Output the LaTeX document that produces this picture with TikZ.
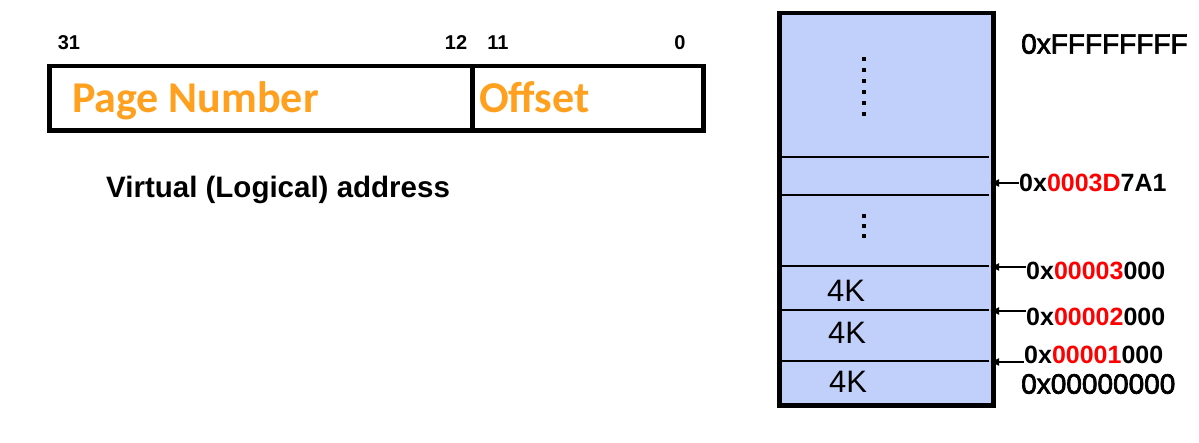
\documentclass[tikz,border=0pt]{standalone}
\usepackage{fontspec}
\setmainfont{Liberation Sans}
\newfontfamily\calib{Carlito}
\newfontfamily\heavy[FakeBold=2.5]{Liberation Sans}
\usetikzlibrary{arrows.meta}
\definecolor{memblue}{RGB}{192,208,250}
\definecolor{pgorange}{RGB}{255,160,30}
\definecolor{addrred}{RGB}{255,0,0}
\tikzset{
  bitlbl/.style={inner sep=0pt, anchor=base, font=\bfseries\fontsize{20}{22}\selectfont},
  fieldlbl/.style={inner sep=0pt, anchor=base west, text=pgorange, font=\calib\bfseries\fontsize{44}{48}\selectfont},
  addrlbl/.style={inner sep=0pt, anchor=west, font=\bfseries\fontsize{25}{28}\selectfont},
  biglbl/.style={inner sep=0pt, anchor=west, font=\heavy\fontsize{28}{32}\selectfont},
  sizelbl/.style={inner sep=0pt, font=\fontsize{31}{34}\selectfont},
  thickbox/.style={draw=black, line width=4.5pt},
  divline/.style={draw=black, line width=1.5pt},
  arr/.style={-{Latex[length=9pt,width=8pt]}, line width=1.3pt},
  dotmark/.style={fill=black, inner sep=0pt, minimum size=3.5pt, rectangle}
}
\begin{document}
\begin{tikzpicture}[x=1pt,y=-1pt]
\useasboundingbox (0,0) rectangle (1199,443);
% ---------- virtual address ----------
\node[thickbox, fill=white, minimum width=423pt, minimum height=64.5pt, anchor=north west, inner sep=0pt] (pn) at (47,64) {};
\node[thickbox, fill=white, minimum width=231pt, minimum height=64.5pt, anchor=north west, inner sep=0pt] (off) at (470,64) {};
\node[fieldlbl] (pntxt) at (72,113) {Page Number};
\node[fieldlbl] (offtxt) at (479,113) {Offset};
\node[bitlbl] (b31) at (69,50) {31};
\node[bitlbl] (b12) at (456,50) {12};
\node[bitlbl] (b11) at (498,50) {11};
\node[bitlbl] (b0) at (680,50) {0};
\node[inner sep=0pt, anchor=west, font=\bfseries\fontsize{29.5}{32}\selectfont] (va) at (106,190) {Virtual (Logical) address};
% ---------- physical memory ----------
\node[thickbox, fill=memblue, minimum width=214pt, minimum height=392pt, anchor=north west, inner sep=0pt] (mem) at (777,11) {};
\coordinate (h1l) at (779,157); \coordinate (h1r) at (989,157);
\coordinate (h2l) at (779,195); \coordinate (h2r) at (989,195);
\coordinate (h3l) at (779,266); \coordinate (h3r) at (989,266);
\coordinate (h4l) at (779,310); \coordinate (h4r) at (989,310);
\coordinate (h5l) at (779,361); \coordinate (h5r) at (989,361);
\draw[divline] (h1l) -- (h1r);
\draw[divline] (h2l) -- (h2r);
\draw[divline] (h3l) -- (h3r);
\draw[divline] (h4l) -- (h4r);
\draw[divline] (h5l) -- (h5r);
\foreach \yy in {59,70,81,92,103,114} {\node[dotmark] at (864,\yy) {};}
\foreach \yy in {216,226,236} {\node[dotmark] at (864,\yy) {};}
\node[sizelbl] (k1) at (846,291) {4K};
\node[sizelbl] (k2) at (847,333) {4K};
\node[sizelbl] (k3) at (848,382) {4K};
% labels
\node[biglbl] (top) at (1021,44) {0xFFFFFFFF};
\node[addrlbl] (l1) at (1019,183) {0x\textcolor{addrred}{0003D}7A1};
\node[addrlbl] (l2) at (1026,271) {0x\textcolor{addrred}{00003}000};
\node[addrlbl] (l3) at (1026,317) {0x\textcolor{addrred}{00002}000};
\node[addrlbl] (l4) at (1024,355) {0x\textcolor{addrred}{00001}000};
\node[biglbl] (bot) at (1021,384) {0x00000000};
\coordinate (a1) at (990,183);
\coordinate (a2) at (990,267);
\coordinate (a3) at (990,311);
\coordinate (a4) at (990,362);
\draw[arr] (l1.west |- a1) -- (a1);
\draw[arr] (l2.west |- a2) -- (a2);
\draw[arr] (l3.west |- a3) -- (a3);
\draw[arr] (l4.west |- a4) -- (a4);
\end{tikzpicture}
\end{document}
